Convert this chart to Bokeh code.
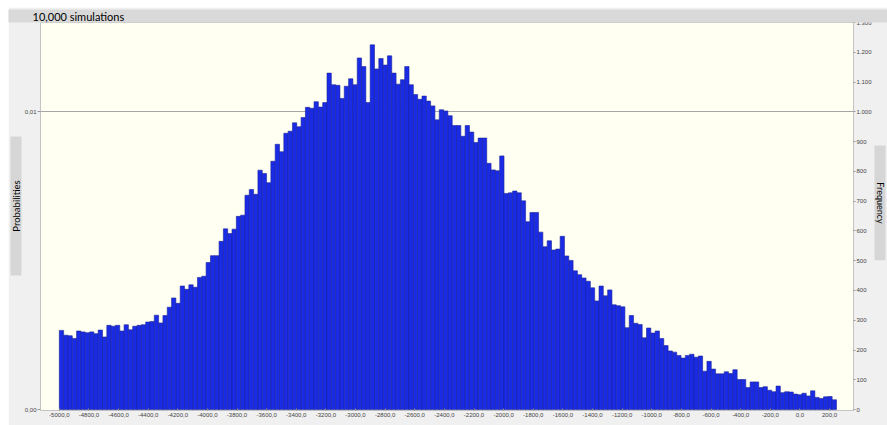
import math
from bokeh.plotting import figure
from bokeh.models import (Range1d, LinearAxis, FixedTicker, CustomJSTickFormatter,
                          ColumnDataSource, Title)
from bokeh.embed import file_html
from bokeh.resources import INLINE

# ---------------- data ----------------
title_text = "10,000 simulations"
left_label = "Probabilities"
right_label = "Frequency"

bin_start = -5000.0
bin_width = 29.15

frequencies = [
    266, 250, 248, 239, 264, 261, 258, 261, 255, 267,
    244, 283, 280, 283, 264, 285, 268, 280, 283, 285,
    294, 296, 317, 291, 316, 344, 375, 357, 415, 404,
    419, 411, 444, 448, 494, 517, 517, 565, 607, 591,
    606, 649, 653, 720, 739, 723, 804, 793, 762, 834,
    891, 866, 928, 935, 963, 950, 981, 1015, 1012, 1034,
    1016, 1031, 1130, 1091, 1089, 1045, 1086, 1111, 1091, 1181,
    1152, 1031, 1225, 1144, 1179, 1157, 1188, 1130, 1093, 1108,
    1152, 1091, 1058, 1042, 1053, 1036, 1020, 973, 1007, 1003,
    987, 954, 954, 918, 954, 932, 897, 912, 912, 827,
    805, 802, 852, 726, 728, 734, 728, 701, 631, 662,
    662, 596, 547, 567, 536, 539, 582, 516, 501, 466,
    453, 442, 431, 409, 365, 415, 382, 402, 352, 349,
    345, 275, 316, 290, 286, 241, 274, 257, 264, 239,
    215, 197, 193, 182, 173, 182, 186, 176, 180, 129,
    162, 136, 120, 120, 127, 121, 134, 101, 101, 74,
    93, 93, 74, 77, 65, 60, 79, 57, 60, 59,
    52, 50, 55, 46, 63, 41, 37, 43, 44, 33,
]

x_ticks = list(range(-5000, 201, 200))
freq_ticks = list(range(0, 1301, 100))
prob_ticks = [0.0, 0.01]
grid_level = [1000]
prob_per_count = 1.0 / 100000.0

# ---------------- build ----------------
lefts = [bin_start + i * bin_width for i in range(len(frequencies))]
rights = [l + bin_width for l in lefts]
src = ColumnDataSource(dict(left=lefts, right=rights, top=frequencies))

W, H = 879, 418
y_lo, y_hi = -3, 1300
p = figure(width=W, height=H, x_range=Range1d(-5127, 362), y_range=Range1d(y_lo, y_hi),
           output_backend="svg", toolbar_location=None, y_axis_location="right",
           min_border_left=32, min_border_right=29, min_border_top=13, min_border_bottom=15)
p.margin = (7, 0, 0, 8)
p.extra_y_ranges = {"prob": Range1d(y_lo * prob_per_count, y_hi * prob_per_count)}

p.background_fill_color = "#FFFFF2"
p.border_fill_color = "#F0F0F0"
p.outline_line_color = "#C4C4C4"

p.quad(left="left", right="right", top="top", bottom=0, source=src,
       fill_color="#1A2BE6", line_color="#1B2399", line_width=0.6)

# grid
p.xgrid.visible = False
p.ygrid.ticker = FixedTicker(ticks=grid_level)
p.ygrid.grid_line_color = "#A6A6A6"
p.ygrid.grid_line_width = 1

# x axis
xa = p.xaxis[0]
xa.ticker = FixedTicker(ticks=x_ticks)
xa.formatter = CustomJSTickFormatter(code="return tick.toFixed(1).replace('.', ',');")
xa.major_label_text_font_size = "6px"
xa.major_label_text_font = "Liberation Sans"
xa.major_label_text_color = "#444444"
xa.major_label_standoff = 2
xa.major_tick_out = 0
xa.major_tick_in = 2
xa.major_tick_line_color = "#888888"
xa.minor_tick_line_color = None
xa.axis_line_color = None

# right (frequency) axis
ya = p.yaxis[0]
ya.ticker = FixedTicker(ticks=freq_ticks)
ya.formatter = CustomJSTickFormatter(code="""
const s = Math.round(tick).toString();
return s.length > 3 ? s.slice(0, -3) + '.' + s.slice(-3) : s;
""")
ya.major_label_text_font_size = "6px"
ya.major_label_text_font = "Liberation Sans"
ya.major_label_text_color = "#444444"
ya.major_label_standoff = 1
ya.major_tick_out = 2
ya.major_tick_in = 0
ya.major_tick_line_color = "#999999"
ya.minor_tick_line_color = None
ya.axis_line_color = None

# left (probability) axis
la = LinearAxis(y_range_name="prob", ticker=FixedTicker(ticks=prob_ticks),
                formatter=CustomJSTickFormatter(code="return tick.toFixed(2).replace('.', ',');"))
la.major_label_text_font_size = "6px"
la.major_label_text_font = "Liberation Sans"
la.major_label_text_color = "#444444"
la.major_label_standoff = 1
la.major_tick_out = 3
la.major_tick_in = 0
la.major_tick_line_color = "#999999"
la.minor_tick_line_color = None
la.axis_line_color = None
p.add_layout(la, "left")

# title strip
p.title = Title(text=title_text, align="left", offset=-32, standoff=0,
                text_font="Lato", text_font_size="11px", text_font_style="normal",
                text_color="#000000", background_fill_color="#D9D9D9",
                padding=dict(left=24, right=900, top=0, bottom=0))

# side labels in grey boxes (non-breaking spaces widen the grey box)
NB = "\u00a0"
p.add_layout(Title(text=NB * 18 + left_label + NB * 18, align="left", standoff=0,
                   offset=135, text_font="Lato", text_font_size="9.5px",
                   text_font_style="normal", text_color="#000000",
                   background_fill_color="#D6D6D6"), "left")
p.add_layout(Title(text=NB * 16 + right_label + NB * 16, align="left", standoff=0,
                   offset=123, text_font="Lato", text_font_size="9px",
                   text_font_style="normal", text_color="#000000",
                   background_fill_color="#D6D6D6"), "right")

open("out.html", "w").write(file_html(p, INLINE))
